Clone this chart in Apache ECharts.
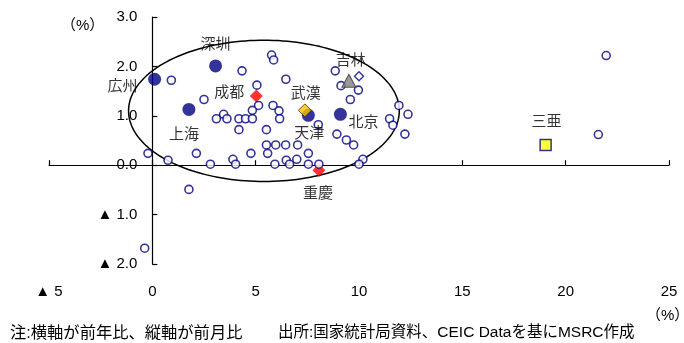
<!DOCTYPE html>
<html>
<head>
<meta charset="utf-8">
<script src="https://cdn.jsdelivr.net/npm/echarts@6/dist/echarts.min.js"></script>
<style>
html,body{margin:0;padding:0;background:#fff;}
#chart{width:684px;height:343px;}
</style>
</head>
<body>
<div id="chart"></div>
<script>
// Axis ticks (year-on-year % on x, month-on-month % on y)
const xTickValues = [-5, 0, 5, 10, 15, 20, 25];
const yTickValues = [-2, -1, 0, 1, 2, 3];

// Highlighted large cities (filled navy circles)
const bigCityNames = ['広州', '深圳', '上海', '天津', '北京'];
const bigCityX = [0.11, 3.06, 1.77, 7.55, 9.10];
const bigCityY = [1.74, 2.01, 1.13, 1.01, 1.03];

// Red diamonds
const redNames = ['成都', '重慶'];
const redX = [5.03, 8.06];
const redY = [1.40, -0.10];

// Gold diamond
const goldNames = ['武漢'];
const goldX = [7.38];
const goldY = [1.11];

// Grey triangle
const triNames = ['吉林'];
const triX = [9.51];
const triY = [1.71];

// Yellow square
const sqNames = ['三亜'];
const sqX = [19.03];
const sqY = [0.41];

// Hollow diamond
const hdX = [10.0];
const hdY = [1.80];

// Remaining cities (hollow circles)
const otherX = [0.92, 4.34, 5.77, 5.87, 6.46, 8.85, 9.13, 9.97, 9.58, 5.06,
                2.50, 5.14, 4.84, 5.84, 6.13, 6.16, 3.10, 3.45, 3.61, 4.19,
                4.51, 4.84, 4.19, 5.52, 8.03, 8.93, 9.39, 9.74, 5.52, 5.97,
                6.45, 7.03, 5.58, 4.77, 2.13, -0.21, 0.76, 2.81, 3.90, 4.03,
                5.93, 6.48, 6.64, 6.99, 7.55, 7.55, 8.06, 10.19, 10.00, 11.93,
                12.37, 11.48, 11.64, 12.22, 1.77, -0.37, 21.96, 21.58];
const otherY = [1.72, 1.91, 2.23, 2.13, 1.74, 1.91, 1.61, 1.52, 1.33, 1.62,
                1.33, 1.21, 1.11, 1.21, 1.10, 0.94, 0.94, 1.03, 0.94, 0.94,
                0.94, 0.94, 0.72, 0.72, 0.82, 0.63, 0.51, 0.41, 0.41, 0.41,
                0.41, 0.41, 0.24, 0.24, 0.24, 0.24, 0.10, 0.02, 0.12, 0.02,
                0.02, 0.10, 0.02, 0.12, 0.24, 0.02, 0.02, 0.12, 0.02, 1.21,
                1.03, 0.94, 0.81, 0.63, -0.49, -1.68, 2.22, 0.62];

// Ellipse enclosing the main cluster: centre x, centre y, radius x, radius y (data units)
const clusterEllipse = [5.4, 1.1, 6.55, 1.43];

// Label placement around each named marker (pixel offsets from the marker centre)
const labelOffsets = {
  '広州': [-32, 8], '深圳': [0, -21], '上海': [-5, 25], '天津': [1, 19], '北京': [23, 9],
  '成都': [-27, -3], '重慶': [-1, 24], '武漢': [1, -17], '吉林': [2, -20], '三亜': [1, -23]
};

const FONT = "'Liberation Sans', 'Noto Sans CJK JP', sans-serif";
const NAVY = '#000080';
const W = 684;
const GRID = { left: 49, right: 15, top: 17, bottom: 79 };

function named(names, xs, ys) {
  return names.map((n, i) => ({
    name: n,
    value: [xs[i], ys[i]],
    label: {
      show: true, position: 'inside', offset: labelOffsets[n],
      formatter: '{b}', color: '#000', fontSize: 15, fontFamily: FONT
    }
  }));
}
function pairs(xs, ys) { return xs.map((x, i) => [x, ys[i]]); }

const negFmt = (digits) => (v) => (v < 0 ? '▲ ' + Math.abs(v).toFixed(digits) : v.toFixed(digits));

const xMin = xTickValues[0], xMax = xTickValues[xTickValues.length - 1];
// Shift the vertical axis (line, ticks and labels) so it sits on x = 0
const yAxisShift = -(W - GRID.left - GRID.right) * (0 - xMin) / (xMax - xMin);

const chart = echarts.init(document.getElementById('chart'), null, { renderer: 'canvas' });

const axisBase = {
  type: 'value',
  min: xMin, max: xMax,
  interval: xTickValues[1] - xTickValues[0],
  splitLine: { show: false }
};

chart.setOption({
  animation: false,
  backgroundColor: '#fff',
  grid: Object.assign({ containLabel: false, outerBoundsMode: 'none' }, GRID),
  xAxis: [
    Object.assign({}, axisBase, {
      position: 'bottom',
      axisLine: { show: true, onZero: true, onZeroAxisIndex: 0, lineStyle: { color: '#000', width: 1.2 } },
      axisTick: { show: true, inside: true, length: 5, lineStyle: { color: '#000', width: 1.2 } },
      axisLabel: { show: false }
    }),
    Object.assign({}, axisBase, {
      position: 'bottom',
      axisLine: { show: false, onZero: false },
      axisTick: { show: false },
      axisLabel: {
        show: true, margin: 20, color: '#000', fontSize: 15, fontFamily: FONT,
        showMinLabel: true, showMaxLabel: true, formatter: negFmt(0)
      }
    })
  ],
  yAxis: [{
    type: 'value',
    position: 'left',
    offset: yAxisShift,
    min: yTickValues[0], max: yTickValues[yTickValues.length - 1],
    interval: yTickValues[1] - yTickValues[0],
    splitLine: { show: false },
    axisLine: { show: true, onZero: false, lineStyle: { color: '#000', width: 1.2 } },
    axisTick: { show: true, inside: true, length: 5, lineStyle: { color: '#000', width: 1.2 } },
    axisLabel: {
      show: true, margin: 15, color: '#000', fontSize: 15, fontFamily: FONT,
      showMinLabel: true, showMaxLabel: true, formatter: negFmt(1)
    }
  }],
  series: [
    {
      type: 'custom',
      z: 1,
      silent: true,
      clip: false,
      data: [clusterEllipse],
      renderItem: function (params, api) {
        const cx = api.value(0), cy = api.value(1), rx = api.value(2), ry = api.value(3);
        const pts = [];
        for (let i = 0; i < 180; i++) {
          const t = (Math.PI * 2 * i) / 180;
          pts.push(api.coord([cx + rx * Math.cos(t), cy + ry * Math.sin(t)]));
        }
        return { type: 'polygon', shape: { points: pts }, style: { fill: 'none', stroke: '#000', lineWidth: 1.5 } };
      }
    },
    {
      type: 'scatter', z: 2, symbol: 'diamond', symbolSize: 13,
      itemStyle: { color: '#ff0000' },
      emphasis: { disabled: true },
      data: named(redNames, redX, redY)
    },
    {
      type: 'scatter', z: 3, symbol: 'circle', symbolSize: 8,
      itemStyle: { color: '#fff', borderColor: NAVY, borderWidth: 1.6 },
      emphasis: { disabled: true },
      data: pairs(otherX, otherY)
    },
    {
      type: 'scatter', z: 4, symbol: 'circle', symbolSize: 13,
      itemStyle: { color: NAVY },
      emphasis: { disabled: true },
      data: named(bigCityNames, bigCityX, bigCityY)
    },
    {
      type: 'scatter', z: 5, symbol: 'diamond', symbolSize: 13,
      itemStyle: { color: '#ffc000', borderColor: '#333', borderWidth: 1 },
      emphasis: { disabled: true },
      data: named(goldNames, goldX, goldY)
    },
    {
      type: 'scatter', z: 5, symbol: 'triangle', symbolSize: [14, 13],
      itemStyle: { color: '#808080', borderColor: '#333', borderWidth: 1 },
      emphasis: { disabled: true },
      data: named(triNames, triX, triY)
    },
    {
      type: 'scatter', z: 5, symbol: 'diamond', symbolSize: 9,
      itemStyle: { color: '#fff', borderColor: NAVY, borderWidth: 1.4 },
      emphasis: { disabled: true },
      data: pairs(hdX, hdY)
    },
    {
      type: 'scatter', z: 5, symbol: 'rect', symbolSize: 11,
      itemStyle: { color: '#ffff00', borderColor: NAVY, borderWidth: 1.5 },
      emphasis: { disabled: true },
      data: named(sqNames, sqX, sqY)
    }
  ],
  graphic: [
    { type: 'text', left: 61, top: 18, style: { text: '（%）', fontSize: 15, fontFamily: FONT, fill: '#000' } },
    { type: 'text', left: 646, top: 308, style: { text: '（%）', fontSize: 15, fontFamily: FONT, fill: '#000' } },
    { type: 'text', left: 10, top: 325, style: { text: '注:横軸が前年比、縦軸が前月比', fontSize: 16.3, fontFamily: FONT, fill: '#000' } },
    { type: 'text', left: 278, top: 325, style: { text: '出所:国家統計局資料、CEIC Dataを基にMSRC作成', fontSize: 15.5, fontFamily: FONT, fill: '#000' } }
  ]
});
</script>
</body>
</html>
